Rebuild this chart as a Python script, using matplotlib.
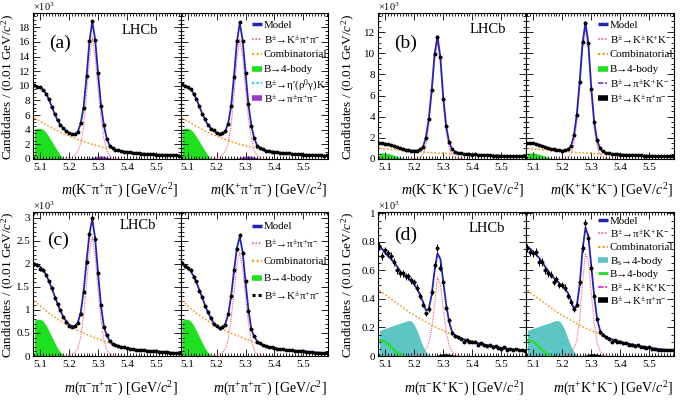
import numpy as np
import matplotlib
matplotlib.use('Agg')
import matplotlib.pyplot as plt
from matplotlib.ticker import MultipleLocator, FuncFormatter

plt.rcParams['font.family'] = ['Liberation Serif', 'DejaVu Serif']
plt.rcParams['mathtext.fontset'] = 'custom'
plt.rcParams['mathtext.rm'] = 'Liberation Serif'
plt.rcParams['mathtext.it'] = 'Liberation Serif:italic'
plt.rcParams['mathtext.bf'] = 'Liberation Serif:bold'

# ---------------- data (units of 10^3 candidates / 0.01 GeV) ----------------
mass_centres = [5.08, 5.09, 5.10, 5.11, 5.12, 5.13, 5.14, 5.15, 5.16, 5.17,
                5.18, 5.19, 5.20, 5.21, 5.22, 5.23, 5.24, 5.25, 5.26, 5.27,
                5.28, 5.29, 5.30, 5.31, 5.32, 5.33, 5.34, 5.35, 5.36, 5.37,
                5.38, 5.39, 5.40, 5.41, 5.42, 5.43, 5.44, 5.45, 5.46, 5.47,
                5.48, 5.49, 5.50, 5.51, 5.52, 5.53, 5.54, 5.55, 5.56, 5.57, 5.58]
comb_mass = [5.08, 5.13, 5.18, 5.23, 5.28, 5.33, 5.38, 5.43, 5.48, 5.53, 5.58]

# (a) K pi pi
a_L_data = [10.1, 9.9, 9.8, 9.4, 8.9, 8.2, 7.1, 6.2, 5.3, 4.6, 4.2, 3.8, 3.5, 3.4, 3.45, 3.7, 4.9, 7.0, 11.3, 16.1,
            18.9, 16.2, 11.8, 7.3, 4.6, 2.8, 1.8, 1.5, 1.25, 1.2, 1.1, 1.0, 0.98, 0.9, 0.88, 0.82, 0.8, 0.74, 0.73, 0.68,
            0.67, 0.62, 0.6, 0.6, 0.56, 0.55, 0.52, 0.52, 0.49, 0.48, 0.47]
a_L_model = [10.05, 9.95, 9.75, 9.45, 8.95, 8.15, 7.15, 6.15, 5.3, 4.65, 4.15, 3.8, 3.55, 3.4, 3.4, 3.75, 4.85, 7.1, 11.2, 16.0,
             18.8, 16.3, 11.7, 7.4, 4.6, 2.8, 1.85, 1.45, 1.28, 1.18, 1.1, 1.03, 0.97, 0.92, 0.87, 0.83, 0.79, 0.75, 0.72, 0.69,
             0.66, 0.63, 0.61, 0.59, 0.57, 0.55, 0.53, 0.51, 0.5, 0.48, 0.47]
a_R_data = [10.2, 9.95, 9.8, 9.55, 8.95, 8.25, 7.2, 6.15, 5.4, 4.7, 4.15, 3.9, 3.55, 3.4, 3.5, 3.85, 4.85, 7.3, 11.2, 16.1,
            18.7, 16.1, 11.7, 7.5, 4.5, 2.85, 1.8, 1.45, 1.3, 1.15, 1.12, 1.0, 0.99, 0.93, 0.85, 0.84, 0.78, 0.76, 0.71, 0.7,
            0.65, 0.64, 0.6, 0.6, 0.57, 0.54, 0.54, 0.5, 0.51, 0.47, 0.48]
a_R_model = [10.1, 10.0, 9.8, 9.5, 9.0, 8.2, 7.2, 6.2, 5.35, 4.7, 4.2, 3.85, 3.6, 3.45, 3.45, 3.8, 4.9, 7.2, 11.3, 16.0,
             18.6, 16.2, 11.7, 7.4, 4.6, 2.8, 1.85, 1.45, 1.28, 1.18, 1.1, 1.03, 0.97, 0.92, 0.87, 0.83, 0.79, 0.75, 0.72, 0.69,
             0.66, 0.63, 0.61, 0.59, 0.57, 0.55, 0.53, 0.51, 0.5, 0.48, 0.47]
a_L_sig = [0.03, 0.06, 0.13, 0.28, 0.55, 1.05, 2.1, 4.4, 8.6, 13.6, 16.6, 14.0, 9.6, 5.5, 2.8, 1.2, 0.45, 0.15, 0.05, 0.01, 0.0]
a_R_sig = [0.03, 0.06, 0.13, 0.28, 0.55, 1.05, 2.1, 4.5, 8.7, 13.6, 16.4, 13.9, 9.6, 5.5, 2.8, 1.2, 0.45, 0.15, 0.05, 0.01, 0.0]
a_comb = [5.6, 4.45, 3.45, 2.65, 2.0, 1.5, 1.08, 0.8, 0.62, 0.5, 0.42]
a_4body = [4.1, 4.2, 4.2, 4.05, 3.65, 3.05, 2.4, 1.75, 1.1, 0.5, 0.05, 0.0]
a_pipipi = [0.0, 0.08, 0.2, 0.32, 0.4, 0.42, 0.38, 0.28, 0.15, 0.05, 0.0]

# (b) K K K
b_L_data = [1.52, 1.47, 1.44, 1.42, 1.31, 1.25, 1.12, 1.05, 0.96, 0.87, 0.82, 0.8, 0.8, 0.79, 0.9, 1.15, 2.0, 3.8, 6.5, 9.95,
            11.5, 9.6, 5.7, 3.1, 1.6, 0.95, 0.68, 0.56, 0.53, 0.48, 0.47, 0.46, 0.42, 0.43, 0.4, 0.38, 0.38, 0.36, 0.35, 0.33,
            0.33, 0.32, 0.3, 0.3, 0.29, 0.28, 0.27, 0.27, 0.25, 0.25, 0.24]
b_L_model = [1.50, 1.48, 1.45, 1.40, 1.33, 1.24, 1.14, 1.04, 0.95, 0.88, 0.83, 0.80, 0.79, 0.80, 0.88, 1.15, 2.0, 3.8, 6.5, 9.9,
             11.6, 9.6, 5.8, 3.1, 1.6, 0.95, 0.68, 0.57, 0.52, 0.49, 0.47, 0.45, 0.43, 0.42, 0.4, 0.39, 0.37, 0.36, 0.35, 0.34,
             0.33, 0.32, 0.31, 0.3, 0.29, 0.28, 0.27, 0.26, 0.26, 0.25, 0.25]
b_R_data = [1.55, 1.48, 1.47, 1.4, 1.36, 1.24, 1.16, 1.04, 0.95, 0.9, 0.83, 0.82, 0.79, 0.82, 0.9, 1.2, 2.3, 4.2, 7.3, 11.1,
            12.9, 11.0, 6.6, 3.5, 1.75, 1.0, 0.72, 0.57, 0.53, 0.5, 0.46, 0.46, 0.42, 0.42, 0.41, 0.38, 0.38, 0.35, 0.35, 0.34,
            0.33, 0.31, 0.31, 0.3, 0.29, 0.28, 0.27, 0.27, 0.25, 0.25, 0.25]
b_R_model = [1.52, 1.5, 1.46, 1.41, 1.34, 1.25, 1.15, 1.05, 0.96, 0.89, 0.84, 0.81, 0.8, 0.81, 0.9, 1.2, 2.2, 4.2, 7.3, 11.0,
             12.9, 10.9, 6.7, 3.5, 1.75, 1.0, 0.7, 0.58, 0.52, 0.49, 0.47, 0.45, 0.43, 0.42, 0.4, 0.39, 0.37, 0.36, 0.35, 0.34,
             0.33, 0.32, 0.31, 0.3, 0.29, 0.28, 0.27, 0.26, 0.26, 0.25, 0.25]
b_L_sig = [0.01, 0.02, 0.04, 0.08, 0.16, 0.4, 1.2, 3.1, 5.9, 9.3, 11.0, 9.0, 5.2, 2.5, 1.05, 0.42, 0.15, 0.05, 0.015, 0.005, 0.0]
b_R_sig = [0.01, 0.02, 0.04, 0.08, 0.17, 0.45, 1.4, 3.5, 6.7, 10.4, 12.3, 10.3, 6.1, 2.9, 1.2, 0.45, 0.16, 0.05, 0.015, 0.005, 0.0]
b_comb = [1.0, 0.87, 0.75, 0.65, 0.56, 0.49, 0.43, 0.38, 0.33, 0.28, 0.25]
b_4body = [0.55, 0.57, 0.56, 0.52, 0.45, 0.36, 0.26, 0.16, 0.08, 0.03, 0.0, 0.0]

# (c) pi pi pi
c_L_data = [2.0, 1.97, 1.9, 1.88, 1.75, 1.62, 1.48, 1.27, 1.12, 1.0, 0.85, 0.73, 0.66, 0.63, 0.66, 0.72, 0.92, 1.4, 2.05, 2.65,
            3.0, 2.55, 1.8, 1.1, 0.62, 0.45, 0.33, 0.27, 0.24, 0.22, 0.2, 0.19, 0.17, 0.16, 0.15, 0.14, 0.135, 0.125, 0.12, 0.115,
            0.11, 0.1, 0.1, 0.095, 0.09, 0.085, 0.08, 0.075, 0.07, 0.065, 0.06]
c_L_model = [2.0, 1.98, 1.94, 1.87, 1.77, 1.63, 1.47, 1.3, 1.13, 0.98, 0.85, 0.75, 0.68, 0.65, 0.65, 0.72, 0.95, 1.4, 2.05, 2.65,
             2.98, 2.55, 1.8, 1.1, 0.64, 0.45, 0.33, 0.27, 0.24, 0.22, 0.2, 0.185, 0.17, 0.16, 0.15, 0.14, 0.13, 0.125, 0.12, 0.115,
             0.11, 0.105, 0.1, 0.095, 0.09, 0.085, 0.08, 0.075, 0.07, 0.065, 0.062]
c_R_data = [2.02, 1.95, 1.92, 1.86, 1.72, 1.62, 1.42, 1.28, 1.08, 0.96, 0.83, 0.7, 0.66, 0.6, 0.63, 0.68, 0.92, 1.3, 1.86, 2.33,
            2.62, 2.24, 1.62, 0.98, 0.58, 0.43, 0.31, 0.28, 0.23, 0.22, 0.2, 0.19, 0.165, 0.16, 0.15, 0.145, 0.13, 0.12, 0.125, 0.11,
            0.11, 0.1, 0.1, 0.095, 0.085, 0.09, 0.075, 0.075, 0.07, 0.06, 0.06]
c_R_model = [2.0, 1.97, 1.93, 1.85, 1.74, 1.6, 1.44, 1.27, 1.1, 0.95, 0.82, 0.71, 0.64, 0.61, 0.62, 0.7, 0.9, 1.3, 1.85, 2.35,
             2.6, 2.25, 1.6, 1.0, 0.58, 0.42, 0.32, 0.27, 0.24, 0.22, 0.2, 0.185, 0.17, 0.16, 0.15, 0.14, 0.13, 0.125, 0.12, 0.115,
             0.11, 0.105, 0.1, 0.095, 0.09, 0.085, 0.08, 0.075, 0.07, 0.065, 0.062]
c_L_sig = [0.005, 0.01, 0.02, 0.04, 0.08, 0.17, 0.4, 0.88, 1.55, 2.25, 2.6, 2.18, 1.42, 0.78, 0.35, 0.13, 0.045, 0.015, 0.005, 0.002, 0.0]
c_R_sig = [0.005, 0.01, 0.02, 0.04, 0.07, 0.15, 0.36, 0.8, 1.38, 1.98, 2.25, 1.9, 1.25, 0.7, 0.32, 0.12, 0.04, 0.012, 0.004, 0.001, 0.0]
c_comb = [1.2, 0.93, 0.72, 0.55, 0.42, 0.3, 0.2, 0.14, 0.1, 0.075, 0.058]
c_4body = [0.78, 0.8, 0.8, 0.76, 0.67, 0.55, 0.42, 0.29, 0.17, 0.08, 0.02, 0.0]

# (d) pi K K
d_L_data = [0.77, 0.70, 0.74, 0.72, 0.70, 0.66, 0.60, 0.58, 0.58, 0.56, 0.56, 0.53, 0.52, 0.48, 0.42, 0.36, 0.30, 0.33, 0.45, 0.64,
            0.76, 0.62, 0.52, 0.34, 0.25, 0.16, 0.14, 0.13, 0.12, 0.1, 0.115, 0.1, 0.1, 0.1, 0.08, 0.09, 0.075, 0.07, 0.075, 0.06,
            0.07, 0.055, 0.05, 0.06, 0.045, 0.05, 0.045, 0.05, 0.04, 0.04, 0.035]
d_L_model = [0.77, 0.75, 0.72, 0.70, 0.68, 0.66, 0.63, 0.6, 0.575, 0.56, 0.545, 0.525, 0.5, 0.47, 0.43, 0.38, 0.32, 0.33, 0.43, 0.6,
             0.72, 0.68, 0.52, 0.36, 0.24, 0.17, 0.145, 0.135, 0.125, 0.118, 0.112, 0.106, 0.1, 0.095, 0.09, 0.086, 0.081, 0.077, 0.073, 0.069,
             0.065, 0.061, 0.058, 0.055, 0.052, 0.05, 0.047, 0.045, 0.043, 0.041, 0.04]
d_R_data = [0.76, 0.73, 0.72, 0.73, 0.66, 0.66, 0.60, 0.58, 0.57, 0.52, 0.54, 0.50, 0.50, 0.48, 0.42, 0.38, 0.33, 0.36, 0.52, 0.76,
            0.93, 0.83, 0.62, 0.42, 0.26, 0.17, 0.15, 0.13, 0.12, 0.1, 0.11, 0.1, 0.1, 0.09, 0.09, 0.08, 0.08, 0.07, 0.075, 0.065,
            0.06, 0.055, 0.06, 0.05, 0.05, 0.045, 0.045, 0.04, 0.04, 0.04, 0.04]
d_R_model = [0.77, 0.75, 0.73, 0.71, 0.69, 0.66, 0.63, 0.6, 0.57, 0.55, 0.53, 0.51, 0.49, 0.47, 0.44, 0.39, 0.33, 0.35, 0.5, 0.75,
             0.9, 0.84, 0.63, 0.42, 0.26, 0.18, 0.15, 0.135, 0.125, 0.118, 0.112, 0.106, 0.1, 0.095, 0.09, 0.086, 0.081, 0.077, 0.073, 0.069,
             0.065, 0.061, 0.058, 0.055, 0.052, 0.05, 0.047, 0.045, 0.043, 0.041, 0.04]
d_L_sig = [0.002, 0.005, 0.01, 0.02, 0.045, 0.09, 0.19, 0.36, 0.55, 0.5, 0.33, 0.17, 0.075, 0.03, 0.01, 0.003, 0.001, 0.0]
d_R_sig = [0.002, 0.005, 0.012, 0.025, 0.055, 0.11, 0.26, 0.52, 0.72, 0.66, 0.44, 0.23, 0.095, 0.035, 0.012, 0.004, 0.001, 0.0]
d_comb = [0.46, 0.385, 0.31, 0.25, 0.195, 0.152, 0.11, 0.084, 0.062, 0.048, 0.038]
d_bs4body = [0.18, 0.187, 0.194, 0.201, 0.208, 0.215, 0.222, 0.229, 0.236, 0.243, 0.25, 0.245, 0.22, 0.175, 0.12, 0.07, 0.03, 0.008, 0.0]
d_4body = [0.11, 0.108, 0.1, 0.085, 0.065, 0.045, 0.025, 0.01, 0.0]
d_kpipi = [0.0, 0.006, 0.012, 0.016, 0.016, 0.013, 0.009, 0.005, 0.002, 0.0]

# ---------------- styling ----------------
C_MODEL = '#2323b8'
C_SIG = '#f0607c'
C_COMB = '#f4a22a'
C_4B = '#1fe01f'
C_BS = '#5ec5c5'
C_PURP = '#9b3bd0'
C_CYAN = '#2ad8d8'
C_MAG = '#e030e0'
C_PDD = '#7a40d8'
DOT = (0, (1, 1))
DASHDOT = (0, (3, 1, 1, 1))

W, H = 681, 409
fig = plt.figure(figsize=(W / 100, H / 100), dpi=100)

def px_axes(x0, x1, ytop, ybot):
    return fig.add_axes([x0 / W, 1 - ybot / H, (x1 - x0) / W, (ybot - ytop) / H])

fmt_g = FuncFormatter(lambda v, _: f'{v:g}')
m_arr = np.array(mass_centres)

def style_axis(ax, ylim, ymaj, ymin, show_ylabels):
    ax.set_xlim(5.075, 5.585)
    ax.set_ylim(0, ylim)
    ax.xaxis.set_major_locator(MultipleLocator(0.1))
    ax.xaxis.set_minor_locator(MultipleLocator(0.01))
    ax.yaxis.set_major_locator(MultipleLocator(ymaj))
    ax.yaxis.set_minor_locator(MultipleLocator(ymin))
    ax.xaxis.set_major_formatter(fmt_g)
    ax.yaxis.set_major_formatter(fmt_g)
    ax.tick_params(which='both', direction='in', top=True, right=True, width=0.6,
                   labelsize=8.0, pad=2.0, labelleft=show_ylabels)
    ax.tick_params(axis='x', which='both', pad=2.8)
    ax.tick_params(which='major', length=5)
    ax.tick_params(which='minor', length=2.5)
    for s in ax.spines.values():
        s.set_linewidth(0.8)

def draw_panel(ax, data, model, sig, sig_lo, comb, fills, lines=()):
    for (lo, vals, col) in fills:
        ax.fill_between(m_arr[lo:lo + len(vals)], 0, vals, color=col, lw=0, zorder=1)
    for (lo, vals, col, lw) in lines:
        ax.plot(m_arr[lo:lo + len(vals)], vals, color=col, lw=lw, zorder=2)
    ax.plot(comb_mass, comb, color=C_COMB, lw=1.1, ls=(0, (1.2, 1.2)), zorder=3)
    ax.plot(m_arr[sig_lo:sig_lo + len(sig)], sig, color=C_SIG, lw=0.8, ls=DOT, zorder=3)
    ax.plot(m_arr, model, color=C_MODEL, lw=1.3, zorder=4)
    d = np.array(data)
    ax.errorbar(m_arr, d, yerr=np.sqrt(d / 1000.0), xerr=0.005, fmt='o', ms=1.8,
                color='black', ecolor='black', elinewidth=0.7, capsize=0, zorder=5)

def key_legend(ax, entries, wpx, hpx, hx, y0, dy, hl=10, gap=1.5, fs=7.8):
    """entries: list of ((colour, linewidth, linestyle), label); positions in px from axes top-left."""
    for i, ((col, lw, ls), lab) in enumerate(entries):
        yc = 1 - (y0 + i * dy) / hpx
        ax.plot([hx / wpx, (hx + hl) / wpx], [yc, yc], transform=ax.transAxes, color=col,
                lw=lw, ls=ls, clip_on=False, solid_capstyle='butt', zorder=6)
        ax.text((hx + hl + gap) / wpx, yc, lab, transform=ax.transAxes, ha='left',
                va='center_baseline', fontsize=fs, zorder=6)

K_MODEL = (C_MODEL, 2.5, '-')
K_SIG = (C_SIG, 1.2, DOT)
K_COMB = (C_COMB, 1.6, DOT)
K_4B = (C_4B, 4, '-')

xl_top = -32 / 146
xl_bot = -33 / 144

panels = [
    dict(box=(33, 180.5, 328, 13, 159), ylim=19.95, ymaj=2, ymin=0.5, tag='(a)',
         lhcb=(0.722, 0.877), tagpos=(0.18, 0.795), xl=xl_top, ylab_x=8,
         labels=('$m$(K$^{-}$π$^{+}$π$^{-}$) [GeV/$c^{2}$]', '$m$(K$^{+}$π$^{+}$π$^{-}$) [GeV/$c^{2}$]'),
         L=(a_L_data, a_L_model, a_L_sig, 10, a_comb,
            [(0, a_4body, C_4B), (18, a_pipipi, C_PURP)]),
         R=(a_R_data, a_R_model, a_R_sig, 10, a_comb,
            [(0, a_4body, C_4B), (18, a_pipipi, C_PURP)]),
         leg=([(K_MODEL, 'Model'), (K_SIG, 'B$^{\\pm}$→K$^{\\pm}$π$^{+}$π$^{-}$'), (K_COMB, 'Combinatorial'),
               (K_4B, 'B→4-body'), ((C_CYAN, 1.6, DOT), 'B$^{\\pm}$→η′(ρ$^{0}$γ)K$^{\\pm}$'),
               ((C_PURP, 4, '-'), 'B$^{\\pm}$→π$^{\\pm}$π$^{+}$π$^{-}$')], 71.5, 11.3, 14.8)),
    dict(box=(378, 526, 674, 13, 159), ylim=13.8, ymaj=2, ymin=0.5, tag='(b)',
         lhcb=(0.74, 0.884), tagpos=(0.186, 0.795), xl=xl_top, ylab_x=348,
         labels=('$m$(K$^{-}$K$^{+}$K$^{-}$) [GeV/$c^{2}$]', '$m$(K$^{+}$K$^{+}$K$^{-}$) [GeV/$c^{2}$]'),
         L=(b_L_data, b_L_model, b_L_sig, 10, b_comb, [(0, b_4body, C_4B)]),
         R=(b_R_data, b_R_model, b_R_sig, 10, b_comb, [(0, b_4body, C_4B)]),
         leg=([(K_MODEL, 'Model'), (K_SIG, 'B$^{\\pm}$→K$^{\\pm}$K$^{+}$K$^{-}$'), (K_COMB, 'Combinatorial'),
               (K_4B, 'B→4-body'), ((C_PDD, 1.3, DASHDOT), 'B$^{\\pm}$→π$^{\\pm}$K$^{+}$K$^{-}$'),
               (('black', 4, '-'), 'B$^{\\pm}$→K$^{\\pm}$π$^{+}$π$^{-}$')], 72, 11.2, 14.8)),
    dict(box=(33, 180.5, 328, 212, 356), ylim=3.13, ymaj=0.5, ymin=0.1, tag='(c)',
         lhcb=(0.712, 0.903), tagpos=(0.173, 0.806), xl=xl_bot, ylab_x=8,
         labels=('$m$(π$^{-}$π$^{+}$π$^{-}$) [GeV/$c^{2}$]', '$m$(π$^{+}$π$^{+}$π$^{-}$) [GeV/$c^{2}$]'),
         L=(c_L_data, c_L_model, c_L_sig, 10, c_comb, [(0, c_4body, C_4B)]),
         R=(c_R_data, c_R_model, c_R_sig, 10, c_comb, [(0, c_4body, C_4B)]),
         leg=([(K_MODEL, 'Model'), (K_SIG, 'B$^{\\pm}$→π$^{\\pm}$π$^{+}$π$^{-}$'), (K_COMB, 'Combinatorial'),
               (K_4B, 'B→4-body'), (('black', 2.2, DOT), 'B$^{\\pm}$→K$^{\\pm}$π$^{+}$π$^{-}$')], 71.5, 13.7, 17.4)),
    dict(box=(378, 526, 674, 212, 356), ylim=1.01, ymaj=0.2, ymin=0.05, tag='(d)',
         lhcb=(0.733, 0.882), tagpos=(0.186, 0.84), xl=xl_bot, ylab_x=348,
         labels=('$m$(π$^{-}$K$^{+}$K$^{-}$) [GeV/$c^{2}$]', '$m$(π$^{+}$K$^{+}$K$^{-}$) [GeV/$c^{2}$]'),
         L=(d_L_data, d_L_model, d_L_sig, 12, d_comb,
            [(0, d_bs4body, C_BS), (19, d_kpipi, 'black')], [(0, d_4body, C_4B, 1.6)]),
         R=(d_R_data, d_R_model, d_R_sig, 12, d_comb,
            [(0, d_bs4body, C_BS), (19, d_kpipi, 'black')], [(0, d_4body, C_4B, 1.6)]),
         leg=([(K_MODEL, 'Model'), (K_SIG, 'B$^{\\pm}$→π$^{\\pm}$K$^{+}$K$^{-}$'), (K_COMB, 'Combinatorial'),
               ((C_BS, 4, '-'), 'B$_{\\mathrm{s}}$→4-body'), ((C_4B, 2, '-'), 'B→4-body'),
               ((C_MAG, 1.3, DASHDOT), 'B$^{\\pm}$→K$^{\\pm}$K$^{+}$K$^{-}$'),
               (('black', 4, '-'), 'B$^{\\pm}$→K$^{\\pm}$π$^{+}$π$^{-}$')], 72, 8.0, 13.3)),
]

for p in panels:
    x0, xm, x1, yt, yb = p['box']
    axL = px_axes(x0, xm, yt, yb)
    axR = px_axes(xm, x1, yt, yb)
    for ax, key, show in ((axL, 'L', True), (axR, 'R', False)):
        draw_panel(ax, *p[key])
        style_axis(ax, p['ylim'], p['ymaj'], p['ymin'], show)
    axL.text(1.0 - 0.015, p['xl'], p['labels'][0], transform=axL.transAxes, ha='right', va='center', fontsize=10)
    axR.text(1.0 - 0.01, p['xl'], p['labels'][1], transform=axR.transAxes, ha='right', va='center', fontsize=10)
    axL.text(*p['lhcb'], 'LHCb', transform=axL.transAxes, ha='center', va='center', fontsize=10.5)
    axL.text(*p['tagpos'], p['tag'], transform=axL.transAxes, ha='center', va='center', fontsize=14)
    fig.text(x0 / W, 1 - (yt - 2) / H, '×10$^{3}$', ha='left', va='baseline', fontsize=7.5)
    fig.text(p['ylab_x'] / W, 1 - ((yt + yb) / 2 + 1) / H, 'Candidates / (0.01 GeV/$c^{2}$)',
             rotation=90, ha='center', va='center', fontsize=9.5)
    entries, hx, y0, dy = p['leg']
    key_legend(axR, entries, x1 - xm, yb - yt, hx, y0, dy)

fig.savefig('out.png', dpi=100)
